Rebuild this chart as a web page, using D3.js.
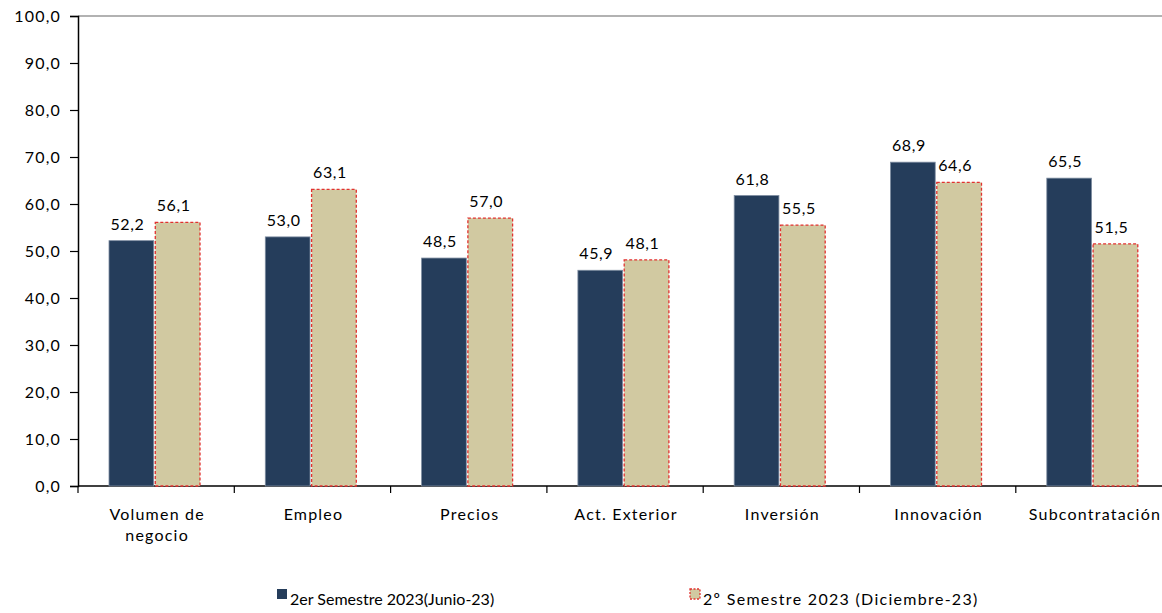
<!DOCTYPE html>
<html>
<head>
<meta charset="utf-8">
<script src="https://cdn.jsdelivr.net/npm/d3@7"></script>
<style>
  html, body { margin: 0; padding: 0; background: #fff; }
  svg { display: block; }
  text { font-family: Lato, "Open Sans", sans-serif; fill: #000; }
</style>
</head>
<body>
<svg id="chart" width="1162" height="613"></svg>
<script>
const categories = [["Volumen de", "negocio"], ["Empleo"], ["Precios"], ["Act. Exterior"], ["Inversión"], ["Innovación"], ["Subcontratación"]];
const seriesNames = ["2er Semestre 2023(Junio-23)", "2º Semestre 2023 (Diciembre-23)"];
const junio = [52.2, 53.0, 48.5, 45.9, 61.8, 68.9, 65.5];
const diciembre = [56.1, 63.1, 57.0, 48.1, 55.5, 64.6, 51.5];
const yTicks = [0, 10, 20, 30, 40, 50, 60, 70, 80, 90, 100];

(function () {
const fmt = v => d3.format(".1f")(v).replace(".", ",");
const svg = d3.select("#chart");

const mLeft = 78, mTop = 16, mBottom = 486, step = 156.3;
const mRight = mLeft + step * categories.length;

const x = d3.scaleBand().domain(d3.range(categories.length)).range([mLeft, mRight]).paddingInner(0).paddingOuter(0);
const inner = d3.scaleBand().domain([0, 1]).range([31, 31 + 91]).paddingInner(0.034);
const y = d3.scaleLinear().domain([0, 100]).range([mBottom, mTop]);

// top border
svg.append("line").attr("x1", mLeft).attr("x2", 1162).attr("y1", mTop).attr("y2", mTop)
  .attr("stroke", "#999").attr("stroke-width", 1.5);

// y axis
const yAxis = d3.axisLeft(y).tickValues(yTicks).tickSize(8).tickFormat(fmt);
const gy = svg.append("g").attr("transform", `translate(${mLeft},0)`).call(yAxis);
gy.select(".domain").attr("stroke", "#000").attr("stroke-width", 1.5);
gy.selectAll(".tick line").attr("stroke", "#000").attr("stroke-width", 1.2);
gy.selectAll(".tick text").attr("font-size", 16).attr("x", -17)
  .style("font-family", "Lato, sans-serif").style("letter-spacing", "1.2px");

// x axis
const gx = svg.append("g").attr("transform", `translate(0,${mBottom})`);
gx.append("line").attr("x1", mLeft).attr("x2", 1162).attr("stroke", "#000").attr("stroke-width", 1.5);
d3.range(categories.length + 1).forEach(i => {
  const xx = mLeft + i * step;
  gx.append("line").attr("x1", xx).attr("x2", xx).attr("y1", 0).attr("y2", 7).attr("stroke", "#000").attr("stroke-width", 1.2);
});
categories.forEach((lines, i) => {
  const cx = x(i) + x.bandwidth() / 2 + 1;
  const t = gx.append("text").attr("text-anchor", "middle").attr("font-size", 16)
    .style("letter-spacing", "1.2px")
    .attr("x", cx).attr("y", 34);
  lines.forEach((l, j) => t.append("tspan").attr("x", cx).attr("dy", j === 0 ? 0 : 21).text(l));
});

// bars
const data = categories.map((c, i) => ({ i, vals: [junio[i], diciembre[i]] }));
const groups = svg.append("g").selectAll("g").data(data).join("g")
  .attr("transform", d => `translate(${x(d.i)},0)`);

groups.append("rect")
  .attr("x", inner(0)).attr("width", inner.bandwidth())
  .attr("y", d => y(d.vals[0])).attr("height", d => mBottom - y(d.vals[0]))
  .attr("fill", "#253D5B").attr("stroke", "#7D8CA0").attr("stroke-width", 0.8);

groups.append("rect")
  .attr("x", inner(1)).attr("width", inner.bandwidth())
  .attr("y", d => y(d.vals[1])).attr("height", d => mBottom - y(d.vals[1]))
  .attr("fill", "#D1C9A1").attr("stroke", "#E2312F").attr("stroke-width", 1.3)
  .attr("stroke-dasharray", "3,2");

[0, 1].forEach(s => {
  groups.append("text").attr("text-anchor", "middle").attr("font-size", 16)
    .style("letter-spacing", "0.6px")
    .attr("x", inner(s) + inner.bandwidth() / 2 - 4)
    .attr("y", d => y(d.vals[s]) - 11)
    .text(d => fmt(d.vals[s]));
});

// legend
const legend = svg.append("g");
legend.append("rect").attr("x", 277).attr("y", 589).attr("width", 10).attr("height", 10).attr("fill", "#253D5B");
legend.append("text").attr("x", 290).attr("y", 605).attr("font-size", 16).text(seriesNames[0]);
legend.append("rect").attr("x", 690).attr("y", 589).attr("width", 10).attr("height", 10)
  .attr("fill", "#D1C9A1").attr("stroke", "#E2312F").attr("stroke-width", 1.3).attr("stroke-dasharray", "2,1.5");
legend.append("text").attr("x", 703).attr("y", 605).attr("font-size", 16).style("letter-spacing", "1.3px").text(seriesNames[1]);
})();
</script>
</body>
</html>
